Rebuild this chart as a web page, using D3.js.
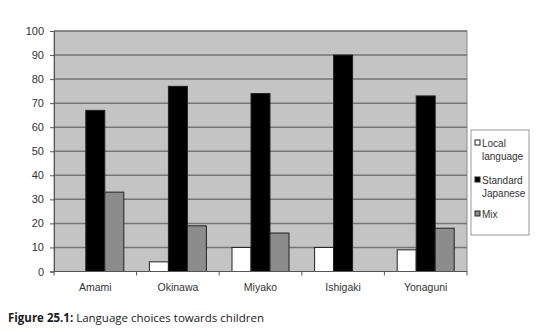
<!DOCTYPE html>
<html>
<head>
<meta charset="utf-8">
<script src="https://cdn.jsdelivr.net/npm/d3@7"></script>
<style>
  html, body { margin: 0; padding: 0; background: #fff; }
  svg { display: block; }
</style>
</head>
<body>
<svg id="chart" width="554" height="330"></svg>
<script>
// Survey categories and answer shares (%)
const islands = ["Amami", "Okinawa", "Miyako", "Ishigaki", "Yonaguni"];
const seriesNames = ["Local language", "Standard Japanese", "Mix"];
const localLanguage = [0, 4, 10, 10, 9];
const standardJapanese = [67, 77, 74, 90, 73];
const mixed = [33, 19, 16, 0, 18];
const yTicks = [0, 10, 20, 30, 40, 50, 60, 70, 80, 90, 100];

const seriesValues = [localLanguage, standardJapanese, mixed];
const fills = ["#ffffff", "#000000", "#8c8c8c"];
const legendLines = [["Local", "language"], ["Standard", "Japanese"], ["Mix"]];

const svg = d3.select("#chart");
const plot = { left: 54, top: 31, right: 467, bottom: 271.5 };
const font = "'Liberation Sans', Arial, sans-serif";

const x = d3.scaleBand().domain(islands).range([plot.left, plot.right]).paddingInner(0.31).paddingOuter(0.155);
const x1 = d3.scaleBand().domain(d3.range(seriesNames.length)).range([0, x.bandwidth()]);
const y = d3.scaleLinear().domain([0, 100]).range([plot.bottom, plot.top]);

// Plot background
svg.append("rect")
  .attr("x", plot.left).attr("y", plot.top)
  .attr("width", plot.right - plot.left).attr("height", plot.bottom - plot.top)
  .attr("fill", "#c4c4c4").attr("stroke", "#8a8a8a").attr("stroke-width", 1);

// Horizontal gridlines
svg.append("g").selectAll("line").data(yTicks.filter(d => d > 0)).join("line")
  .attr("x1", plot.left).attr("x2", plot.right)
  .attr("y1", d => y(d)).attr("y2", d => y(d))
  .attr("stroke", "#767676").attr("stroke-width", 1.5);

// Bars
const groups = svg.append("g").selectAll("g").data(islands).join("g")
  .attr("transform", d => `translate(${x(d)},0)`);
groups.selectAll("rect")
  .data((d, i) => seriesValues.map((vals, s) => ({ s, v: vals[i] })).filter(e => e.v > 0))
  .join("rect")
  .attr("x", e => x1(e.s))
  .attr("y", e => y(e.v))
  .attr("width", x1.bandwidth())
  .attr("height", e => y(0) - y(e.v))
  .attr("fill", e => fills[e.s])
  .attr("stroke", "#222").attr("stroke-width", 1);

// Y axis
const yAxis = svg.append("g").attr("transform", `translate(${plot.left},0)`)
  .call(d3.axisLeft(y).tickValues(yTicks).tickSize(4).tickPadding(6));
yAxis.select(".domain").attr("stroke", "#555");
yAxis.selectAll(".tick line").attr("stroke", "#555");
yAxis.selectAll("text").attr("font-family", font).attr("font-size", 11).attr("fill", "#333");

// X axis with ticks at category boundaries
const xAxisG = svg.append("g");
xAxisG.append("line")
  .attr("x1", plot.left).attr("x2", plot.right)
  .attr("y1", plot.bottom).attr("y2", plot.bottom)
  .attr("stroke", "#555");
const boundaries = d3.range(islands.length + 1).map(i => plot.left + i * (plot.right - plot.left) / islands.length);
xAxisG.selectAll("line.tk").data(boundaries).join("line").attr("class", "tk")
  .attr("x1", d => d).attr("x2", d => d)
  .attr("y1", plot.bottom).attr("y2", plot.bottom + 4)
  .attr("stroke", "#555");
xAxisG.selectAll("text").data(islands).join("text")
  .attr("x", d => x(d) + x.bandwidth() / 2)
  .attr("y", 290.5)
  .attr("text-anchor", "middle")
  .attr("font-family", font).attr("font-size", 10.5).attr("fill", "#333")
  .text(d => d);

// Legend
const legend = svg.append("g");
legend.append("rect")
  .attr("x", 471).attr("y", 130).attr("width", 58).attr("height", 105)
  .attr("fill", "#fff").attr("stroke", "#999").attr("stroke-width", 1);
const legendY = [140, 177, 211];
seriesNames.forEach((name, i) => {
  legend.append("rect")
    .attr("x", 475).attr("y", legendY[i])
    .attr("width", 5).attr("height", 5)
    .attr("fill", fills[i]).attr("stroke", "#222").attr("stroke-width", 1);
  legend.append("text")
    .attr("x", 482).attr("y", legendY[i] + 7)
    .attr("font-family", font).attr("font-size", 10).attr("fill", "#333")
    .selectAll("tspan").data(legendLines[i]).join("tspan")
    .attr("x", 482).attr("dy", (d, j) => j === 0 ? 0 : 12.5)
    .text(d => d);
});

// Caption
const caption = svg.append("text")
  .attr("x", 8).attr("y", 321.5)
  .attr("font-family", "'Open Sans', 'Noto Sans', sans-serif").attr("font-size", 11.5).attr("fill", "#1a1a1a");
caption.append("tspan").attr("font-weight", "bold").text("Figure 25.1:");
caption.append("tspan").text(" Language choices towards children");
</script>
</body>
</html>
